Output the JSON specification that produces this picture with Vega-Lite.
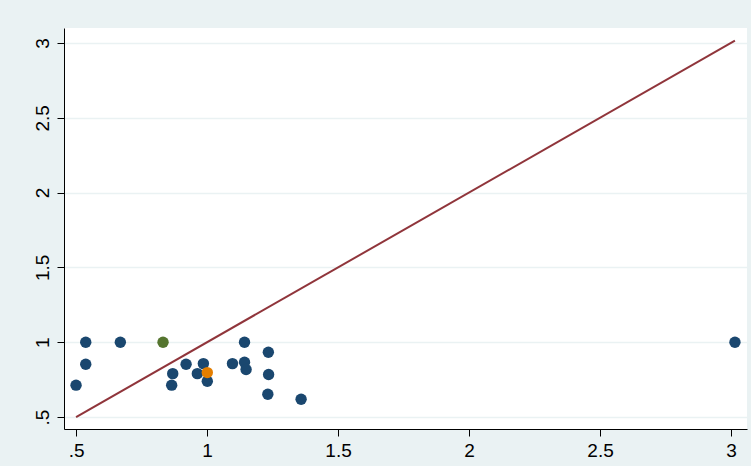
{
  "$schema": "https://vega.github.io/schema/vega-lite/v6.json",
  "width": 683,
  "height": 401,
  "autosize": {"type": "none"},
  "padding": {"left": 64, "top": 28, "right": 4, "bottom": 37},
  "background": "#eaf2f3",
  "view": {"fill": "white", "stroke": null},
  "config": {
    "font": "Liberation Sans",
    "axis": {
      "labelColor": "#000000",
      "domainColor": "#000000",
      "tickColor": "#000000",
      "domainWidth": 1,
      "tickWidth": 1,
      "tickSize": 7,
      "title": null
    }
  },
  "datasets": {
    "pts": [
      {"x": 0.5, "y": 0.713, "g": "a"},
      {"x": 0.537, "y": 1.0, "g": "a"},
      {"x": 0.537, "y": 0.853, "g": "a"},
      {"x": 0.669, "y": 1.0, "g": "a"},
      {"x": 0.865, "y": 0.713, "g": "a"},
      {"x": 0.869, "y": 0.79, "g": "a"},
      {"x": 0.92, "y": 0.853, "g": "a"},
      {"x": 0.963, "y": 0.79, "g": "a"},
      {"x": 0.986, "y": 0.857, "g": "a"},
      {"x": 1.001, "y": 0.739, "g": "a"},
      {"x": 1.097, "y": 0.857, "g": "a"},
      {"x": 1.143, "y": 1.0, "g": "a"},
      {"x": 1.143, "y": 0.866, "g": "a"},
      {"x": 1.149, "y": 0.818, "g": "a"},
      {"x": 1.234, "y": 0.933, "g": "a"},
      {"x": 1.235, "y": 0.784, "g": "a"},
      {"x": 1.232, "y": 0.652, "g": "a"},
      {"x": 1.359, "y": 0.619, "g": "a"},
      {"x": 3.015, "y": 1.0, "g": "a"},
      {"x": 0.832, "y": 1.0, "g": "b"},
      {"x": 1.001, "y": 0.797, "g": "c"}
    ],
    "diag": [
      {"x": 0.5, "y": 0.5},
      {"x": 3.015, "y": 3.015}
    ]
  },
  "layer": [
    {
      "data": {"name": "diag"},
      "mark": {"type": "line", "color": "#90353b", "strokeWidth": 2},
      "encoding": {
        "x": {"field": "x", "type": "quantitative", "scale": {"domain": [0.454, 3.061], "nice": false, "zero": false},
          "axis": {"values": [0.5, 1, 1.5, 2, 2.5, 3], "labelExpr": "replace(format(datum.value, '~g'), /^0\\./, '.')", "grid": false, "labelPadding": 5, "labelFlush": false, "labelFont": "Liberation Sans", "labelFontSize": 19}},
        "y": {"field": "y", "type": "quantitative", "scale": {"domain": [0.42, 3.1], "nice": false, "zero": false},
          "axis": {"values": [0.5, 1, 1.5, 2, 2.5, 3], "labelExpr": "replace(format(datum.value, '~g'), /^0\\./, '.')", "grid": true, "gridColor": "#eaf2f3", "gridWidth": 1.5, "labelAngle": -90, "labelAlign": "center", "labelBaseline": "bottom", "labelPadding": 5, "labelFlush": false, "labelFont": "Liberation Sans", "labelFontSize": 19}}
      }
    },
    {
      "data": {"name": "pts"},
      "mark": {"type": "circle", "size": 130, "opacity": 1},
      "encoding": {
        "x": {"field": "x", "type": "quantitative"},
        "y": {"field": "y", "type": "quantitative"},
        "color": {"field": "g", "type": "nominal", "scale": {"domain": ["a", "b", "c"], "range": ["#1a476f", "#55752f", "#e37e00"]}, "legend": null},
        "order": {"field": "g"}
      }
    }
  ]
}
